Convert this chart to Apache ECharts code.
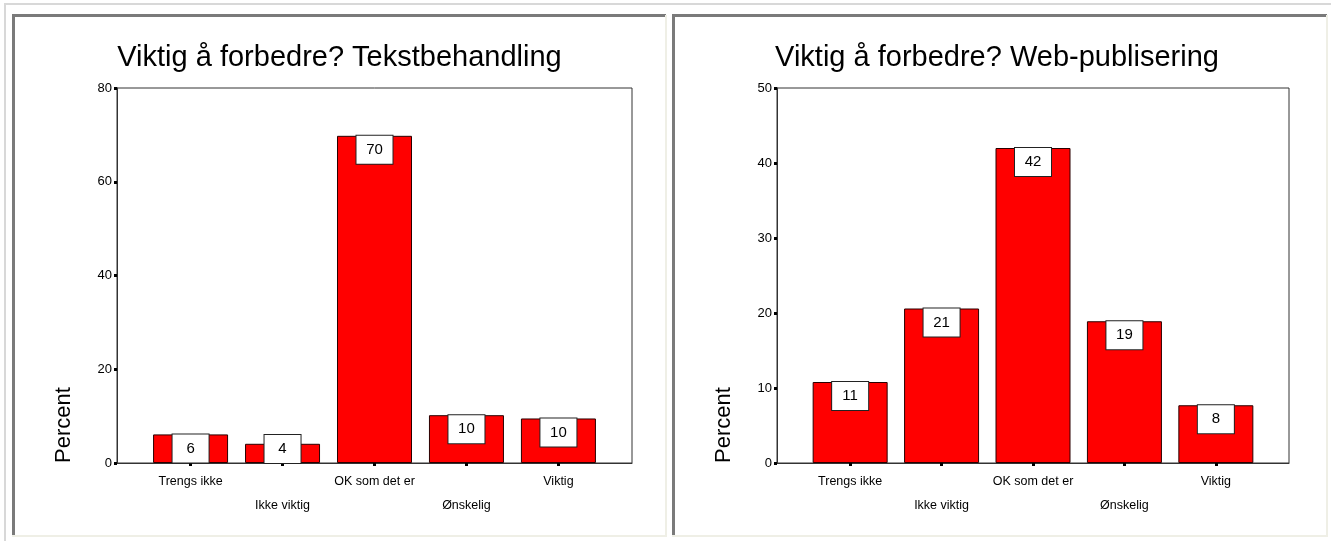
<!DOCTYPE html>
<html>
<head>
<meta charset="utf-8">
<title>Viktig å forbedre?</title>
<script src="https://cdn.jsdelivr.net/npm/echarts@6/dist/echarts.min.js"></script>
<style>
  html, body { margin: 0; padding: 0; background: #ffffff; }
  #chart { width: 1333px; height: 541px; }
</style>
</head>
<body>
<div id="chart"></div>
<script>
// Answer categories shared by both charts
const categories = ['Trengs ikke', 'Ikke viktig', 'OK som det er', 'Ønskelig', 'Viktig'];

// Percent per answer – word processing
const tekstValues = [6.1, 4.1, 69.8, 10.2, 9.5];
// Percent per answer – web publishing
const webValues = [10.8, 20.6, 42.0, 18.9, 7.7];

// Y-axis tick setup per chart
const tekstTicks = [0, 20, 40, 60, 80];
const webTicks = [0, 10, 20, 30, 40, 50];

const titles = ['Viktig å forbedre? Tekstbehandling', 'Viktig å forbedre? Web-publisering'];
const yName = 'Percent';

const FONT = '"Liberation Sans", Arial, sans-serif';
const PLOT_H = 375;
const BOX_H = 28;

const chart = echarts.init(document.getElementById('chart'), null, { renderer: 'canvas' });

const grids = [
  { left: 117, top: 88, width: 515, height: PLOT_H },
  { left: 777, top: 88, width: 512, height: PLOT_H }
];

function xAxisFor(i) {
  return {
    type: 'value', gridIndex: i, min: -0.8, max: 4.8,
    splitLine: { show: false },
    axisLine: { show: true, onZero: false, lineStyle: { color: '#333', width: 1 } },
    axisTick: { show: true, customValues: [0, 1, 2, 3, 4], length: 3, lineStyle: { color: '#000', width: 3 } },
    axisLabel: {
      show: true, customValues: [0, 1, 2, 3, 4], margin: 7,
      fontFamily: FONT, fontSize: 12.5, color: '#000', lineHeight: 24,
      formatter: v => {
        const k = Math.round(v);
        return (k % 2 === 1 ? '\n' : '') + categories[k];
      }
    }
  };
}

function yAxisFor(i, ticks) {
  return {
    type: 'value', gridIndex: i,
    min: ticks[0], max: ticks[ticks.length - 1], interval: ticks[1] - ticks[0],
    splitLine: { show: false },
    axisLine: { show: true, onZero: false, lineStyle: { color: '#333', width: 1 } },
    axisTick: { show: true, length: 3, lineStyle: { color: '#000', width: 3 } },
    axisLabel: { margin: 5, fontFamily: FONT, fontSize: 13, color: '#000' }
  };
}

function barSeries(i, values, yMax) {
  return {
    type: 'bar', xAxisIndex: i, yAxisIndex: i,
    barWidth: 75,
    itemStyle: { color: '#ff0000', borderColor: '#2a0000', borderWidth: 1 },
    data: values.map((v, k) => {
      // Short bars: the value box rests on the baseline instead of hanging from the top
      const short = v / yMax * PLOT_H < BOX_H;
      return {
        value: [k, v],
        label: { position: short ? 'insideBottom' : 'insideTop', distance: 0 }
      };
    }),
    label: {
      show: true,
      formatter: p => String(Math.round(p.value[1])),
      fontFamily: FONT, fontSize: 15, color: '#000',
      backgroundColor: '#fff', borderColor: '#222', borderWidth: 1,
      width: 36, align: 'center', lineHeight: 16, padding: [6, 0]
    }
  };
}

// Panel borders (sunken cells inside a light outer frame)
const dark = '#7a7a7a', light = '#efefe6';
const panels = [
  { x1: 12, x2: 666 },
  { x1: 672, x2: 1327 }
];
const graphics = [
  { type: 'polyline', shape: { points: [[5, 541], [5, 4], [1331, 4]] }, style: { stroke: '#d8d8d8', lineWidth: 2, fill: null } }
];
panels.forEach(p => {
  graphics.push({ type: 'polyline', shape: { points: [[p.x1 + 1.5, 536], [p.x1 + 1.5, 15.5], [p.x2, 15.5]] }, style: { stroke: dark, lineWidth: 3, fill: null } });
  graphics.push({ type: 'polyline', shape: { points: [[p.x2, 15], [p.x2, 536], [p.x1, 536]] }, style: { stroke: light, lineWidth: 2, fill: null } });
});
[[339.5, 64], [997, 724]].forEach((c, i) => {
  graphics.push({ type: 'text', x: c[0], y: 58, style: { text: titles[i], fontFamily: FONT, fontSize: 29, fill: '#000', align: 'center', verticalAlign: 'middle' } });
  graphics.push({ type: 'text', x: c[1], y: 425, rotation: Math.PI / 2, style: { text: yName, fontFamily: FONT, fontSize: 22, fill: '#000', align: 'center', verticalAlign: 'middle' } });
});

chart.setOption({
  animation: false,
  backgroundColor: '#ffffff',
  grid: grids.map(g => Object.assign({ show: true, borderColor: '#333', borderWidth: 1, backgroundColor: 'transparent', outerBoundsMode: 'none' }, g)),
  xAxis: [xAxisFor(0), xAxisFor(1)],
  yAxis: [yAxisFor(0, tekstTicks), yAxisFor(1, webTicks)],
  series: [barSeries(0, tekstValues, tekstTicks[tekstTicks.length - 1]), barSeries(1, webValues, webTicks[webTicks.length - 1])],
  graphic: graphics
});
</script>
</body>
</html>
